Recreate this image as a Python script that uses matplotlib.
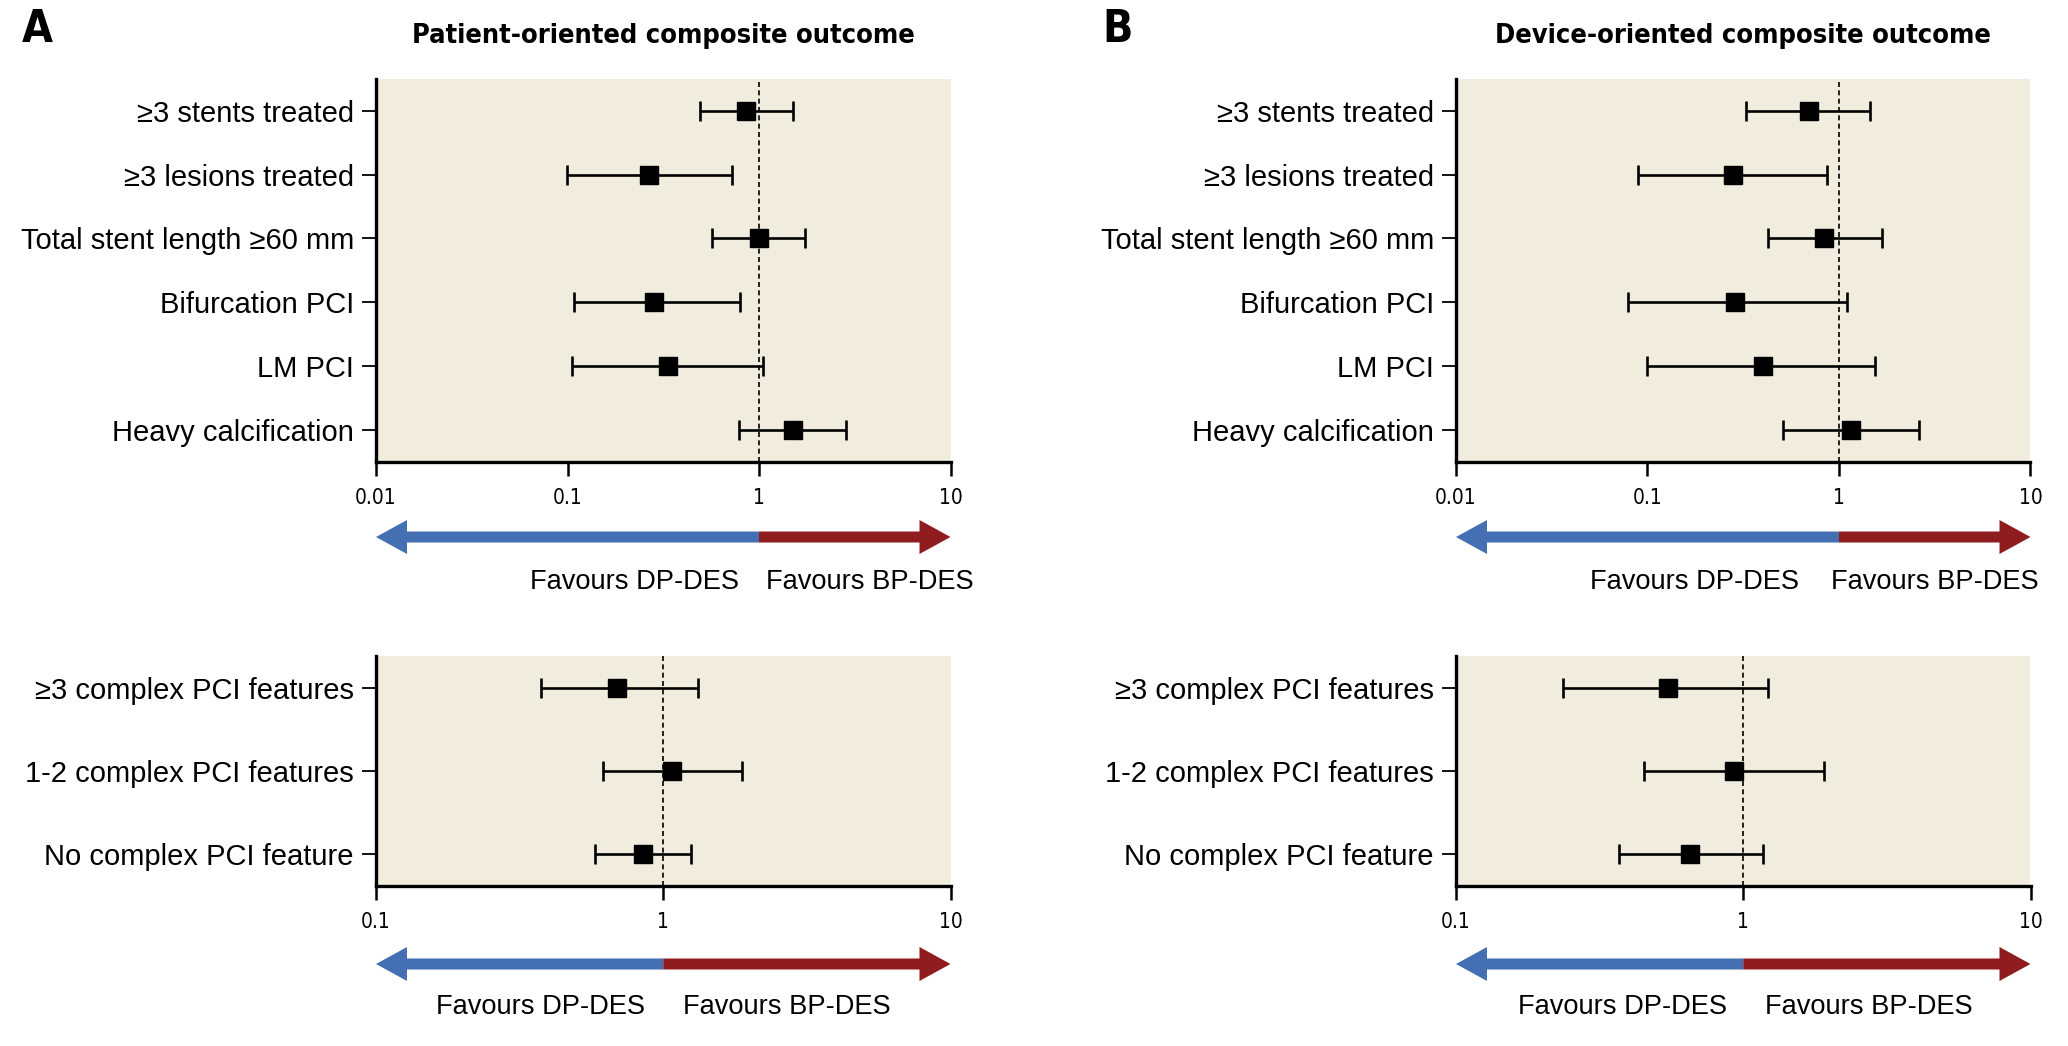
import matplotlib
matplotlib.use("Agg")
import matplotlib.pyplot as plt
import numpy as np
from matplotlib.patches import Polygon
from matplotlib.ticker import NullLocator

plt.rcParams['font.family'] = ['Liberation Sans', 'DejaVu Sans']
NARROW = ['DejaVu Sans']

W, H = 2068, 1046

# categories
feature_labels = ["≥3 stents treated", "≥3 lesions treated", "Total stent length ≥60 mm",
                  "Bifurcation PCI", "LM PCI", "Heavy calcification"]
count_labels = ["≥3 complex PCI features", "1-2 complex PCI features", "No complex PCI feature"]

# patient-oriented composite outcome (hazard ratio, 95% CI)
poce_hr = [0.86, 0.267, 1.0, 0.284, 0.334, 1.51]
poce_lo = [0.49, 0.099, 0.567, 0.108, 0.106, 0.787]
poce_hi = [1.50, 0.72, 1.74, 0.794, 1.055, 2.86]
poce_cnt_hr = [0.69, 1.07, 0.853]
poce_cnt_lo = [0.374, 0.618, 0.578]
poce_cnt_hi = [1.32, 1.88, 1.25]

# device-oriented composite outcome
doce_hr = [0.70, 0.278, 0.836, 0.287, 0.40, 1.15]
doce_lo = [0.327, 0.089, 0.425, 0.0795, 0.0995, 0.51]
doce_hi = [1.46, 0.863, 1.67, 1.106, 1.545, 2.62]
doce_cnt_hr = [0.546, 0.929, 0.653]
doce_cnt_lo = [0.235, 0.453, 0.368]
doce_cnt_hi = [1.22, 1.91, 1.17]

top_ticks = [0.01, 0.1, 1, 10]
top_ticklabels = ["0.01", "0.1", "1", "10"]
bot_ticks = [0.1, 1, 10]
bot_ticklabels = ["0.1", "1", "10"]

BG = '#f0edde'
BLUE = '#4470b3'
RED = '#8f1c1f'

fig = plt.figure(figsize=(W / 100, H / 100), dpi=100)


def px_axes(l, t, r, b):
    return fig.add_axes([l / W, 1 - b / H, (r - l) / W, (b - t) / H])


def forest(ax, labels, hr, lo, hi, ticks, ticklabels):
    hr = np.array(hr)
    lo = np.array(lo)
    hi = np.array(hi)
    y = np.arange(len(labels))
    ax.set_xscale('log')
    ax.set_xlim(ticks[0], ticks[-1])
    ax.set_facecolor(BG)
    ax.axvline(1, ls=(0, (3, 2)), lw=1.2, color='black', zorder=1)
    ax.errorbar(hr, y, xerr=[hr - lo, hi - hr], fmt='s', color='black', ms=12.5,
                capsize=7, elinewidth=1.9, capthick=1.9, zorder=3)
    gap = 0.5 if len(labels) > 3 else 0.39
    ax.set_ylim(len(labels) - 1 + gap, -gap)
    ax.set_yticks(y, labels)
    ax.set_xticks(ticks, ticklabels)
    ax.xaxis.set_minor_locator(NullLocator())
    for s in ['top', 'right']:
        ax.spines[s].set_visible(False)
    for s in ['left', 'bottom']:
        ax.spines[s].set_linewidth(2.4)
    ax.tick_params(axis='y', length=10, width=1.3, pad=6, labelsize=21)
    ax.tick_params(axis='x', length=10, width=1.8, pad=9, labelsize=15)
    for t in ax.get_xticklabels():
        t.set_family(NARROW)
        t.set_stretch('condensed')


def favour_arrow(l, r, yc, xlim, text_y, off_dp, off_bp):
    aa = px_axes(l, yc - 20, r, yc + 20)
    aa.set_xscale('log')
    aa.set_xlim(xlim)
    aa.set_ylim(-1, 1)
    aa.axis('off')
    x0, x1 = xlim
    pxdec = (r - l) / np.log10(x1 / x0)
    hl = 10 ** (31 / pxdec)
    sh, hh = 0.275, 0.85
    blue = [(x0, 0), (x0 * hl, hh), (x0 * hl, sh), (1, sh), (1, -sh), (x0 * hl, -sh), (x0 * hl, -hh)]
    red = [(x1, 0), (x1 / hl, hh), (x1 / hl, sh), (1, sh), (1, -sh), (x1 / hl, -sh), (x1 / hl, -hh)]
    aa.add_patch(Polygon(blue, closed=True, color=BLUE, lw=0, clip_on=False))
    aa.add_patch(Polygon(red, closed=True, color=RED, lw=0, clip_on=False))
    # offsets given in pixels, converted to points
    aa.annotate("Favours DP-DES", xy=(1, text_y), xytext=(off_dp * 0.72, 0), textcoords='offset points',
                ha='right', va='center', fontsize=19.6, annotation_clip=False)
    aa.annotate("Favours BP-DES", xy=(1, text_y), xytext=(off_bp * 0.72, 0), textcoords='offset points',
                ha='left', va='center', fontsize=19.6, annotation_clip=False)


panels = [
    (376, "A", "Patient-oriented composite outcome",
     (poce_hr, poce_lo, poce_hi), (poce_cnt_hr, poce_cnt_lo, poce_cnt_hi), (-20, 7), (-18, 20)),
    (1456, "B", "Device-oriented composite outcome",
     (doce_hr, doce_lo, doce_hi), (doce_cnt_hr, doce_cnt_lo, doce_cnt_hi), (-40, -8), (-16, 22)),
]

for left, letter, title, top_data, bot_data, top_off, bot_off in panels:
    right = left + 574.5
    ax1 = px_axes(left, 79, right, 461.7)
    forest(ax1, feature_labels, *top_data, top_ticks, top_ticklabels)
    favour_arrow(left, right, 537, (top_ticks[0], top_ticks[-1]), -2.25, *top_off)

    ax2 = px_axes(left, 656, right, 886)
    forest(ax2, count_labels, *bot_data, bot_ticks, bot_ticklabels)
    favour_arrow(left, right, 964, (bot_ticks[0], bot_ticks[-1]), -2.15, *bot_off)

    fig.text((left + right) / 2 / W, 1 - 36 / H, title, ha='center', va='center',
             fontsize=19.5, fontweight='bold', family=NARROW, fontstretch='condensed')

fig.text(37 / W, 1 - 29 / H, "A", ha='center', va='center', fontsize=32,
         fontweight='bold', family=NARROW, fontstretch='condensed')
fig.text(1118 / W, 1 - 29 / H, "B", ha='center', va='center', fontsize=32,
         fontweight='bold', family=NARROW, fontstretch='condensed')

fig.savefig("out.png", dpi=100)
